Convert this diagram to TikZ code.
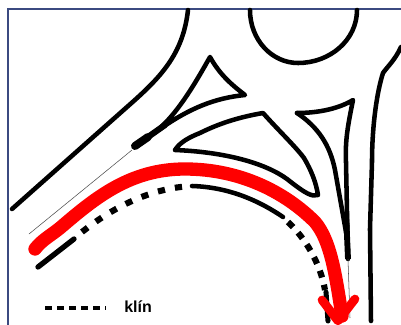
\documentclass[tikz,border=0pt]{standalone}
\usepackage{fontspec}
\setmainfont{Liberation Sans}
\definecolor{framecol}{HTML}{3B4A80}
\begin{document}
\begin{tikzpicture}[
  x=0.75pt, y=-0.75pt,
  frameline/.style={draw=framecol, line width=1.5pt},
  road/.style={draw=black, line width=3.4pt, line cap=round, line join=round},
  wedge/.style={draw=black, line width=4.6pt, line cap=butt},
  dashedroad/.style={wedge, dash pattern=on 5.4pt off 7.6pt},
  thinline/.style={draw=black!70, line width=0.4pt},
  route/.style={draw=red, line width=10pt, line cap=round, line join=round}
]
\useasboundingbox (0,0) rectangle (401,325);
\draw[frameline] (8,325) -- (8,9) -- (401,9);
% roads
\draw[road] (188,10) .. controls (183,55) and (160,78) .. (127,107) -- (12,209);
\draw[road] (250,10) .. controls (250,40) and (272,63) .. (298,63) .. controls (330,63) and (357,40) .. (357,10);
\draw[road] (401,47) .. controls (395,60) and (388,66) .. (383,73) .. controls (376,95) and (372,130) .. (372,162) -- (370,229) -- (371,321);
% left island
\draw[road, line width=6pt] (135,146) -- (148,137);
\draw[road, line width=4.6pt] (148,137) -- (165,125);
\draw[road] (160,128) .. controls (180,110) and (197,80) .. (210,57)
  .. controls (220,75) and (232,85) .. (245,95)
  .. controls (215,98) and (190,108) .. (160,129);
% middle island
\draw[road] (175,150) .. controls (180,142) and (190,137) .. (200,133) .. controls (220,123) and (240,117) .. (263,113)
  .. controls (280,132) and (295,146) .. (304,158) .. controls (311,170) and (316,182) .. (318,195)
  .. controls (312,197) and (306,194) .. (287,179) .. controls (265,163) and (225,152) .. (175,150);
% right island
\draw[road] (297,113) .. controls (320,113) and (340,108) .. (353,100)
  .. controls (348,125) and (345,140) .. (346,162) -- (347,212) -- (348,259);
\draw[road] (297,113) .. controls (318,127) and (330,145) .. (335,170) -- (346,232);
\draw[road, line width=4.4pt, line cap=butt] (346,212) -- (348,259);
\draw[thinline] (348,259) -- (350,318);
\draw[thinline] (132,150) -- (29,234);
% wedge
\draw[road, line width=4pt] (38,267) -- (74,239);
\draw[dashedroad] (82,232) .. controls (112,208) and (150,188) .. (192,186);
\draw[road] (192,186) .. controls (225,187) and (255,198) .. (283,217);
\draw[dashedroad, dash pattern=on 5.4pt off 5.6pt] (288,222) .. controls (305,238) and (320,262) .. (325,290);
\draw[road, line width=3.8pt] (326,292) -- (328,321);
% route
\draw[route] (35,249) .. controls (42,240) and (50,236) .. (60,228) .. controls (95,198) and (130,169) .. (185,169) .. controls (240,169) and (285,192) .. (315,222) .. controls (330,240) and (335,270) .. (342,316);
\draw[route, line width=6.5pt] (322,300) -- (338,321) -- (355,299);
% legend
\node[inner sep=0pt, anchor=west, font=\fontsize{12pt}{14pt}\bfseries] (klin) at (124,307) {klín};
\coordinate (legendstart) at (45,308);
\draw[wedge, line width=2.8pt, dash pattern=on 5.6pt off 3.4pt] (legendstart) -- (106,308);
\end{tikzpicture}
\end{document}
